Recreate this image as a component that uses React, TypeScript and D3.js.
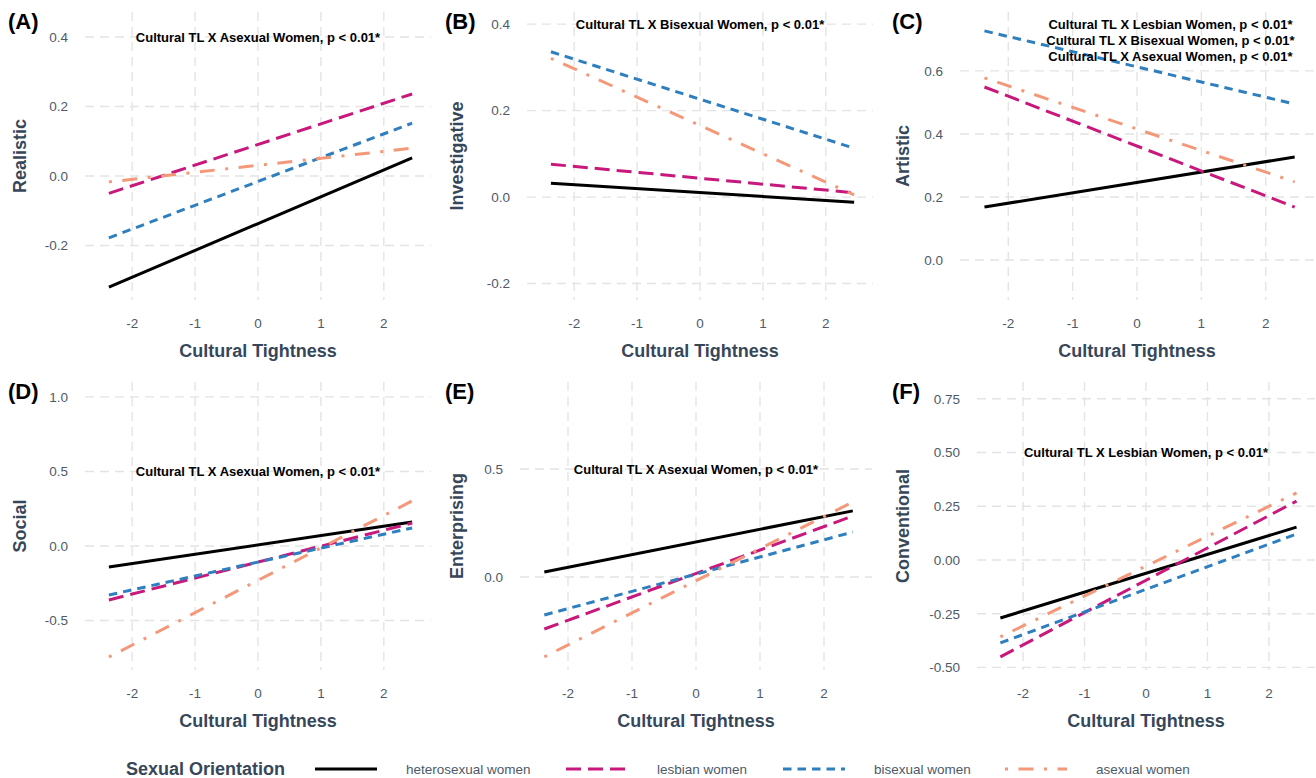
import React, { useRef, useEffect } from 'react';
import * as d3 from 'd3';

// groups, in legend order
const groups = ['heterosexual women', 'lesbian women', 'bisexual women', 'asexual women'];
const groupColors = ['#000000', '#c8187c', '#2f7fbf', '#f4987a'];
const groupDash = ['none', '15 7', '8.5 6', '3 10.5 15 10.5'];

// fitted lines run between these two cultural tightness values
const xEnds = [-2.37, 2.45];
const xTicks = [-2, -1, 0, 1, 2];

// [value at left end, value at right end] per group
const realistic = [[-0.32, 0.052], [-0.05, 0.236], [-0.178, 0.152], [-0.017, 0.08]];
const investigative = [[0.032, -0.012], [0.076, 0.01], [0.336, 0.113], [0.321, 0.005]];
const artistic = [[0.168, 0.327], [0.549, 0.168], [0.727, 0.495], [0.578, 0.248]];
const social = [[-0.141, 0.161], [-0.362, 0.154], [-0.329, 0.121], [-0.745, 0.302]];
const enterprising = [[0.023, 0.306], [-0.241, 0.282], [-0.176, 0.208], [-0.37, 0.347]];
const conventional = [[-0.27, 0.153], [-0.451, 0.274], [-0.386, 0.121], [-0.358, 0.312]];

const realisticTicks = [-0.2, 0, 0.2, 0.4];
const investigativeTicks = [-0.2, 0, 0.2, 0.4];
const artisticTicks = [0, 0.2, 0.4, 0.6];
const socialTicks = [-0.5, 0, 0.5, 1.0];
const enterprisingTicks = [0, 0.5];
const conventionalTicks = [-0.5, -0.25, 0, 0.25, 0.5, 0.75];

const noteAsexual = ['Cultural TL X Asexual Women, p < 0.01*'];
const noteBisexual = ['Cultural TL X Bisexual Women, p < 0.01*'];
const noteLesbian = ['Cultural TL X Lesbian Women, p < 0.01*'];
const noteArtistic = [
  'Cultural TL X Lesbian Women, p < 0.01*',
  'Cultural TL X Bisexual Women, p < 0.01*',
  'Cultural TL X Asexual Women, p < 0.01*',
];

const FONT = 'Liberation Sans, Arial, Helvetica, sans-serif';
const TICK = '#4d5a69';
const TITLE = '#36475a';
const GRID = '#e4e4e4';

const panels = [
  { tag: '(A)', title: 'Realistic', values: realistic, ticks: realisticTicks, yDomain: [-0.357, 0.472], digits: 1, row: 0, col: 0, note: noteAsexual, noteAt: [0, 0.4] },
  { tag: '(B)', title: 'Investigative', values: investigative, ticks: investigativeTicks, yDomain: [-0.238, 0.428], digits: 1, row: 0, col: 1, note: noteBisexual, noteAt: [0, 0.4] },
  { tag: '(C)', title: 'Artistic', values: artistic, ticks: artisticTicks, yDomain: [-0.127, 0.787], digits: 1, row: 0, col: 2, note: noteArtistic, noteAt: [0.52, 0.749] },
  { tag: '(D)', title: 'Social', values: social, ticks: socialTicks, yDomain: [-0.832, 1.1], digits: 1, row: 1, col: 0, note: noteAsexual, noteAt: [0, 0.5] },
  { tag: '(E)', title: 'Enterprising', values: enterprising, ticks: enterprisingTicks, yDomain: [-0.431, 0.903], digits: 1, row: 1, col: 1, note: noteAsexual, noteAt: [0, 0.5] },
  { tag: '(F)', title: 'Conventional', values: conventional, ticks: conventionalTicks, yDomain: [-0.512, 0.828], digits: 2, row: 1, col: 2, note: noteLesbian, noteAt: [0, 0.5] },
];

// layout
const W = 1316, H = 778;
const rowTop = [12, 382];
const rowBottom = [300, 670];
const plotX = [
  [[85, 431], [527, 873], [960, 1314]],
  [[85, 431], [520, 872], [977, 1315]],
];
const yTitleX = [26, 463, 909];
const tagX = [8, 445, 892];

export default function App() {
  const ref = useRef(null);

  useEffect(() => {
    document.body.style.margin = '0';
    const svg = d3.select(ref.current);
    svg.selectAll('*').remove();
    svg.append('rect').attr('width', W).attr('height', H).attr('fill', '#fff');

    panels.forEach(p => {
      const [left, right] = plotX[p.row][p.col];
      const top = rowTop[p.row], bottom = rowBottom[p.row];
      const x = d3.scaleLinear().domain([-2.75, 2.75]).range([left, right]);
      const y = d3.scaleLinear().domain(p.yDomain).range([bottom, top]);
      const g = svg.append('g');

      // grid
      g.selectAll('.hg').data(p.ticks).join('line')
        .attr('x1', left).attr('x2', right)
        .attr('y1', d => y(d)).attr('y2', d => y(d))
        .attr('stroke', GRID).attr('stroke-width', 1.4).attr('stroke-dasharray', '9 6');
      g.selectAll('.vg').data(xTicks).join('line')
        .attr('x1', d => x(d)).attr('x2', d => x(d))
        .attr('y1', top).attr('y2', bottom)
        .attr('stroke', GRID).attr('stroke-width', 1.4).attr('stroke-dasharray', '9 6');

      // tick labels
      g.selectAll('.yt').data(p.ticks).join('text')
        .attr('x', left - 17).attr('y', d => y(d)).attr('dy', '0.36em')
        .attr('text-anchor', 'end').attr('font-family', FONT).attr('font-size', 13.5)
        .attr('fill', TICK).text(d => d.toFixed(p.digits));
      g.selectAll('.xt').data(xTicks).join('text')
        .attr('x', d => x(d)).attr('y', bottom + 28)
        .attr('text-anchor', 'middle').attr('font-family', FONT).attr('font-size', 13.5)
        .attr('fill', TICK).text(d => String(d));

      // axis titles
      g.append('text')
        .attr('x', (x(-2) + x(2)) / 2).attr('y', bottom + 57)
        .attr('text-anchor', 'middle').attr('font-family', FONT).attr('font-size', 18)
        .attr('font-weight', 'bold').attr('fill', TITLE).text('Cultural Tightness');
      g.append('text')
        .attr('transform', `translate(${yTitleX[p.col]},${(top + bottom) / 2}) rotate(-90)`)
        .attr('text-anchor', 'middle').attr('font-family', FONT).attr('font-size', 18)
        .attr('font-weight', 'bold').attr('fill', TITLE).text(p.title);

      // panel tag
      g.append('text')
        .attr('x', tagX[p.col]).attr('y', top + 17)
        .attr('font-family', FONT).attr('font-size', 22).attr('font-weight', 'bold')
        .attr('fill', '#000').text(p.tag);

      // fitted lines
      const line = d3.line().x(d => x(d[0])).y(d => y(d[1]));
      p.values.forEach((v, i) => {
        g.append('path')
          .attr('d', line(xEnds.map((xv, k) => [xv, v[k]])))
          .attr('fill', 'none').attr('stroke', groupColors[i]).attr('stroke-width', 3)
          .attr('stroke-dasharray', groupDash[i]);
      });

      // annotation
      p.note.forEach((t, k) => {
        g.append('text')
          .attr('x', x(p.noteAt[0])).attr('y', y(p.noteAt[1]) + k * 16).attr('dy', '0.36em')
          .attr('text-anchor', 'middle').attr('font-family', FONT).attr('font-size', 13)
          .attr('font-weight', 'bold').attr('fill', '#000').text(t);
      });
    });

    // legend
    const ly = 769;
    const lg = svg.append('g');
    lg.append('text').attr('x', 126).attr('y', ly).attr('dy', '0.36em')
      .attr('font-family', FONT).attr('font-size', 18).attr('font-weight', 'bold')
      .attr('fill', TITLE).text('Sexual Orientation');
    const keyX = [315, 566, 783, 1005];
    groups.forEach((name, i) => {
      lg.append('line').attr('x1', keyX[i]).attr('x2', keyX[i] + 62)
        .attr('y1', ly).attr('y2', ly)
        .attr('stroke', groupColors[i]).attr('stroke-width', 3)
        .attr('stroke-dasharray', groupDash[i]);
      lg.append('text').attr('x', keyX[i] + 91).attr('y', ly).attr('dy', '0.36em')
        .attr('font-family', FONT).attr('font-size', 13.5).attr('fill', TICK).text(name);
    });
  }, []);

  return <svg ref={ref} width={W} height={H} style={{ display: 'block' }} />;
}
